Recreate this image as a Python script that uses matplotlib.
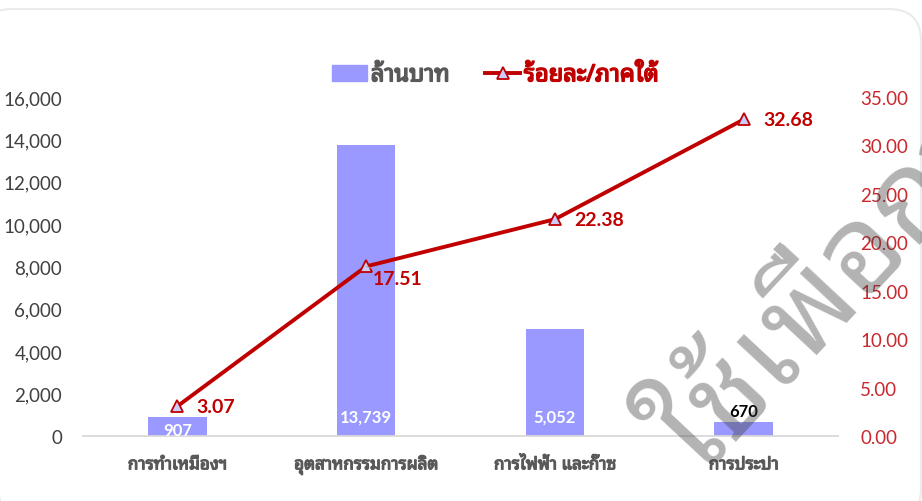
import matplotlib
matplotlib.use("Agg")
import numpy as np
import matplotlib.pyplot as plt
import matplotlib.patheffects as pe
from matplotlib.patches import FancyBboxPatch, Patch
from matplotlib.lines import Line2D
from matplotlib.transforms import IdentityTransform
from matplotlib.ticker import FuncFormatter

categories = ["การทำเหมืองฯ", "อุตสาหกรรมการผลิต", "การไฟฟ้า และก๊าซ", "การประปา"]
million_baht = [907, 13739, 5052, 670]
pct_south = [3.07, 17.51, 22.38, 32.68]

thai = ["Noto Sans Thai Looped", "Lato", "DejaVu Sans"]
num = ["Lato", "DejaVu Sans"]
red = "#C00000"
grey = "#595959"


def bolden(color, w=0.9):
    # the Thai font has no bold face, so thicken it with a stroke
    return [pe.withStroke(linewidth=w, foreground=color)]


fig = plt.figure(figsize=(9.22, 5.02), dpi=100)

# light rounded frame round the chart
frame = FancyBboxPatch((-20, -20), 941, 512, boxstyle="round,pad=0,rounding_size=32",
                       fc="none", ec="#EBEBEB", lw=1.5, transform=IdentityTransform())
fig.patches.append(frame)

ax = fig.add_axes([0.09, 0.1295, 0.819, 0.6753])
x = np.arange(len(categories))
ax.bar(x, million_baht, width=0.31, color="#9999FF", zorder=2)
ax.set_xlim(-0.5, 3.5)
ax.set_ylim(0, 16000)
ax.set_yticks(np.arange(0, 16001, 2000))
ax.yaxis.set_major_formatter(FuncFormatter(lambda v, p: f"{v:,.0f}"))
ax.set_xticks(x)
ax.set_xticklabels(categories, family=thai, fontsize=12.3, color=grey)
for lab in ax.get_xticklabels():
    lab.set_va("baseline")
    lab.set_path_effects(bolden(grey))
for lab in ax.get_yticklabels():
    lab.set_family(num)
ax.tick_params(axis="y", length=0, pad=15, labelsize=13.5, labelcolor="#404040")
ax.tick_params(axis="x", length=0, pad=24)
for s in ["top", "right", "left"]:
    ax.spines[s].set_visible(False)
ax.spines["bottom"].set_color("#D9D9D9")
ax.spines["bottom"].set_linewidth(1.3)

# bar value labels (inside base, small bar label sits above)
for i, v in enumerate(million_baht):
    if v < 800:
        ax.text(i, v + 150, f"{v:,}", ha="center", va="bottom", fontsize=12,
                fontweight="bold", color="black", family=num, zorder=5)
    else:
        ax.text(i, 900 if v > 2000 else v / 3, f"{v:,}", ha="center", va="center",
                fontsize=12, fontweight="bold", color="white", family=num, zorder=5)

ax2 = ax.twinx()
ax2.set_ylim(0, 35)
ax2.set_yticks(np.arange(0, 35.1, 5))
ax2.yaxis.set_major_formatter(FuncFormatter(lambda v, p: f"{v:.2f}"))
for lab in ax2.get_yticklabels():
    lab.set_family(num)
ax2.tick_params(axis="y", length=0, pad=16, labelsize=13.5, labelcolor="#C8282E")
for s in ax2.spines.values():
    s.set_visible(False)

ax2.plot(x, pct_south, color=red, lw=2.8, marker="^", ms=9, mfc="#CCCCFF",
         mec=red, mew=1.3, zorder=3)
for i, v in enumerate(pct_south):
    if i == 1:
        ax2.annotate(f"{v:.2f}", (i, v), xytext=(5, -9), textcoords="offset points",
                     ha="left", va="center", color=red, fontweight="bold", fontsize=14,
                     family=num,
                     arrowprops=dict(arrowstyle="-", color="#A6A6A6", lw=0.8,
                                     shrinkA=0, shrinkB=0))
    else:
        ax2.annotate(f"{v:.2f}", (i, v), xytext=(14, 0), textcoords="offset points",
                     ha="left", va="center", color=red, fontweight="bold", fontsize=14,
                     family=num)

handles = [Patch(color="#9999FF"),
           Line2D([], [], color=red, lw=2.8, marker="^", ms=9, mfc="#CCCCFF", mec=red, mew=1.3)]
leg = fig.legend(handles, ["ล้านบาท", "ร้อยละ/ภาคใต้"], loc="center",
                 bbox_to_anchor=(0.537, 0.848), ncol=2, frameon=False,
                 prop=dict(family=thai, size=17),
                 handlelength=1.5, handletextpad=0.15, columnspacing=1.5)
for t, c in zip(leg.get_texts(), [grey, red]):
    t.set_color(c)
    t.set_path_effects(bolden(c, 1.1))

# grey watermark across the lower right
fig.text(0.76, 0.045, "ใช้เพื่อการศึกษา", rotation=47, rotation_mode="anchor",
         ha="left", va="baseline", fontsize=88, family=thai,
         color="#404040", alpha=0.4, zorder=10)

fig.savefig("out.png", dpi=100)
